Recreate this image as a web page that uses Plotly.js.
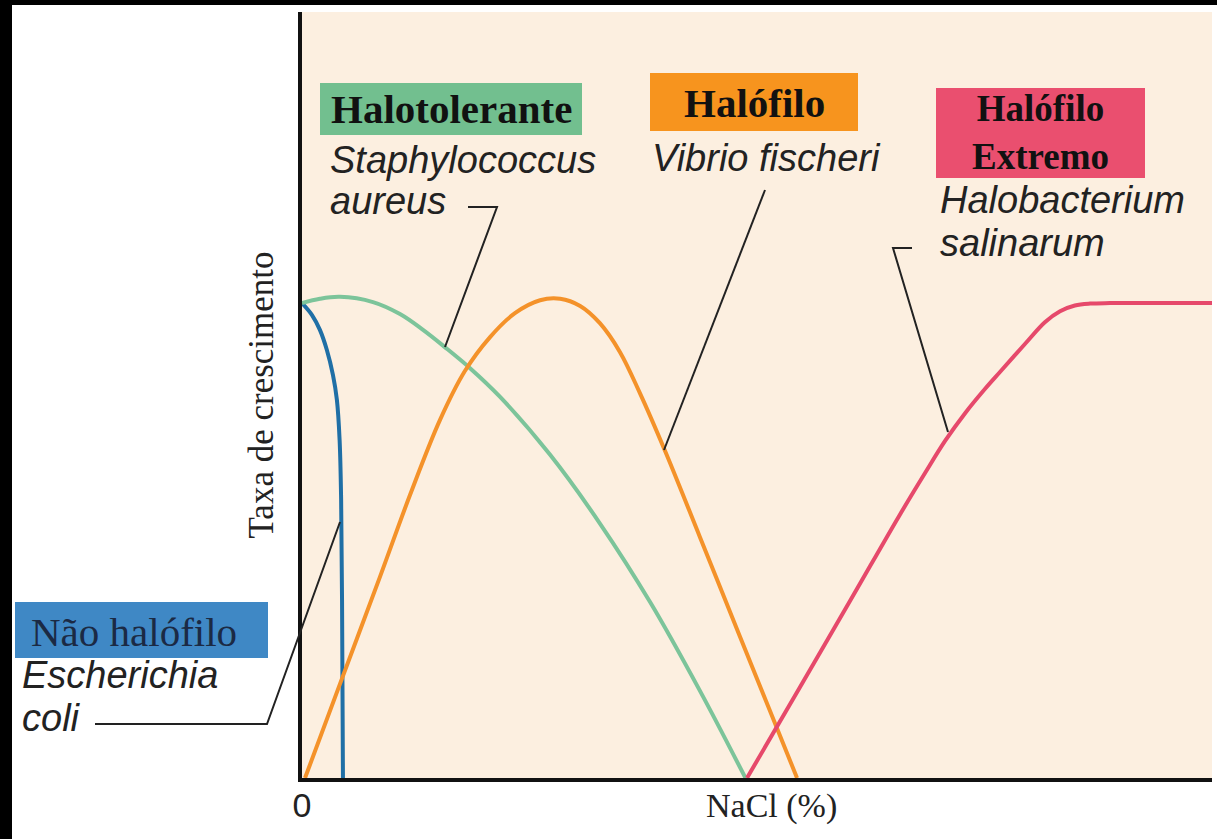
<!DOCTYPE html>
<html>
<head>
<meta charset="utf-8">
<script src="https://cdn.plot.ly/plotly-3.0.1.min.js"></script>
<style>
  html, body { margin: 0; padding: 0; background: #000; width: 1217px; height: 839px; overflow: hidden; }
  #chart { position: absolute; left: 12px; top: 5px; width: 1205px; height: 834px; background: #fff; }
</style>
</head>
<body>
<div id="chart"></div>
<script>
// ---- Data (NaCl % on an arbitrary 0-30 scale, growth rate relative, peak ~1) ----
const seriesNames = ["Não halófilo", "Halotolerante", "Halófilo", "Halófilo Extremo"];

const ecoliX = [0, 0.33, 0.59, 0.82, 1.02, 1.15, 1.24, 1.29, 1.32, 1.35];
const ecoliY = [0.992, 0.967, 0.936, 0.894, 0.842, 0.790, 0.706, 0.581, 0.372, 0];

const aureusX = [0, 0.59, 1.25, 2.34, 3.23, 3.99, 4.71, 5.54, 6.53, 8.18, 9.84, 11.49, 13.12, 14.62];
const aureusY = [0.992, 1.001, 1.005, 0.994, 0.969, 0.936, 0.900, 0.856, 0.796, 0.675, 0.530, 0.366, 0.182, 0];

const vibrioX = [0.10, 1.25, 2.57, 3.56, 4.55, 5.37, 6.20, 7.02, 7.85, 8.51, 9.17, 9.82, 10.48, 11.14, 11.97, 13.12, 14.44, 15.43, 16.32];
const vibrioY = [0, 0.196, 0.420, 0.591, 0.748, 0.850, 0.921, 0.971, 0.998, 1.001, 0.986, 0.950, 0.890, 0.804, 0.683, 0.503, 0.295, 0.140, 0];

const haloX = [14.67, 16.42, 18.07, 19.71, 20.54, 21.20, 21.86, 22.52, 23.01, 23.84, 24.49, 24.99, 25.48, 25.98, 26.64, 28.29, 30.0];
const haloY = [0, 0.190, 0.370, 0.550, 0.637, 0.704, 0.762, 0.813, 0.848, 0.907, 0.952, 0.975, 0.987, 0.991, 0.992, 0.992, 0.992];

const xTickVals = [0];
const xTickText = ["0"];

// ---- helpers: page pixel -> paper coords (plot area 302..1212 x 12..778) ----
const PX = X => (X - 302) / 910;
const PY = Y => (778 - Y) / 766;

const serif = "Liberation Serif, Times New Roman, serif";
const sans = "Liberation Sans, Arial, Helvetica, sans-serif";

const colors = { blue: "#1f6fa6", green: "#7cc49a", orange: "#f4922a", red: "#e6496b" };

const lineStyle = c => ({ color: c, width: 4, shape: "spline", smoothing: 1 });
const traces = [
  { x: ecoliX, y: ecoliY, name: seriesNames[0], mode: "lines", line: lineStyle(colors.blue) },
  { x: aureusX, y: aureusY, name: seriesNames[1], mode: "lines", line: lineStyle(colors.green) },
  { x: vibrioX, y: vibrioY, name: seriesNames[2], mode: "lines", line: lineStyle(colors.orange) },
  { x: haloX, y: haloY, name: seriesNames[3], mode: "lines", line: lineStyle(colors.red) }
];

function rect(x0, y0, x1, y1, color) {
  return { type: "rect", xref: "paper", yref: "paper", x0: PX(x0), x1: PX(x1), y0: PY(y1), y1: PY(y0),
           fillcolor: color, line: { width: 0 }, layer: "above" };
}
function path(pts) {
  const d = pts.map((p, i) => (i ? "L" : "M") + PX(p[0]) + "," + PY(p[1])).join(" ");
  return { type: "path", xref: "paper", yref: "paper", path: d, line: { color: "#222", width: 2 }, layer: "above" };
}

const shapes = [
  rect(320, 83, 582, 135, "#72bf8f"),
  rect(650, 73, 858, 131, "#f7941e"),
  rect(936, 88, 1145, 178, "#ea4f6f"),
  rect(15, 602, 268, 658, "#3f88c5"),
  path([[468, 207], [497, 207], [445, 347]]),
  path([[765, 190], [664, 450]]),
  path([[912, 248], [893, 248], [948, 432]]),
  path([[95, 724], [267, 724], [340, 522]])
];

function label(text, X, Y, opts) {
  return Object.assign({
    text: text, xref: "paper", yref: "paper", x: PX(X), y: PY(Y),
    xanchor: "left", yanchor: "middle", showarrow: false,
    font: { family: sans, size: 38, color: "#222" }
  }, opts || {});
}
const boxFont = { family: serif, size: 41, color: "#111" };

const annotations = [
  label("<b>Halotolerante</b>", 451, 109, { xanchor: "center", font: boxFont }),
  label("<b>Halófilo</b>", 754, 103, { xanchor: "center", font: boxFont }),
  label("<b>Halófilo</b><br><b>Extremo</b>", 1040, 133, { xanchor: "center", font: { family: serif, size: 37, color: "#111" } }),
  label("Não halófilo", 134, 632, { xanchor: "center", font: { family: serif, size: 41, color: "#1b2a44" } }),
  label("<i>Staphylococcus</i>", 328, 160),
  label("<i>aureus</i>", 328, 201),
  label("<i>Vibrio fischeri</i>", 650, 158),
  label("<i>Halobacterium</i>", 938, 200),
  label("<i>salinarum</i>", 938, 243),
  label("<i>Escherichia</i>", 20, 675),
  label("<i>coli</i>", 20, 718),
  label("NaCl (%)", 771, 806, { xanchor: "center", font: { family: serif, size: 34, color: "#222" } })
];

const layout = {
  width: 1205, height: 834,
  margin: { l: 290, r: 5, t: 7, b: 61, pad: 0 },
  paper_bgcolor: "#ffffff",
  plot_bgcolor: "#fcefe0",
  showlegend: false,
  xaxis: {
    range: [0, 30], showgrid: false, zeroline: false,
    showline: true, linecolor: "#111", linewidth: 4,
    tickvals: xTickVals, ticktext: xTickText, ticks: "",
    ticklabelstandoff: -6,
    tickfont: { family: sans, size: 34, color: "#222" },
    automargin: false, fixedrange: true
  },
  yaxis: {
    range: [0, 1.6], showgrid: false, zeroline: false,
    showline: true, linecolor: "#111", linewidth: 4,
    showticklabels: false, ticks: "",
    title: { text: "Taxa de crescimento", font: { family: serif, size: 35, color: "#222" }, standoff: 15 },
    automargin: false, fixedrange: true
  },
  shapes: shapes,
  annotations: annotations
};

Plotly.newPlot("chart", traces, layout, { displayModeBar: false, staticPlot: true });
</script>
</body>
</html>
